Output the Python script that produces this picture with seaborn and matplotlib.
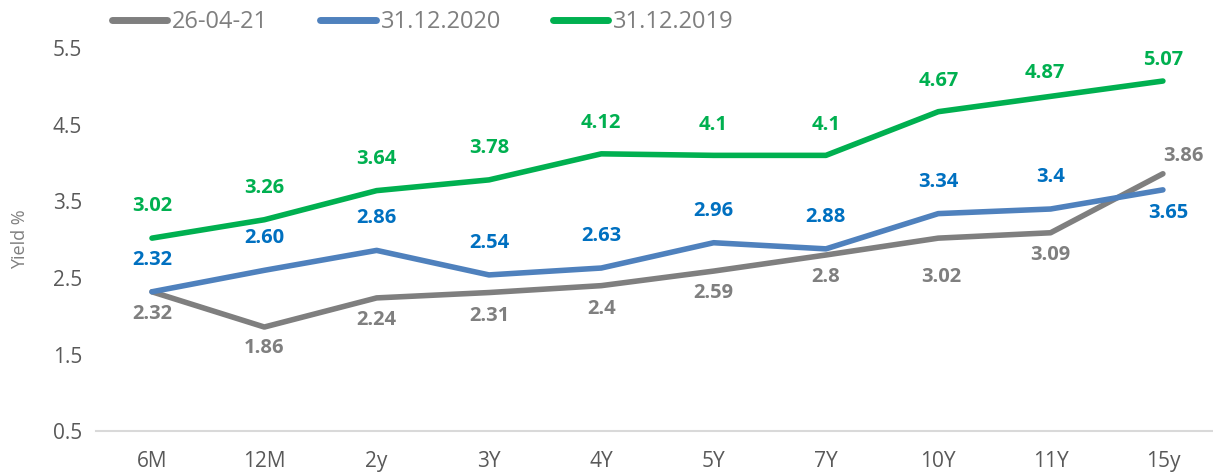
import pandas as pd
import seaborn as sns
import matplotlib.pyplot as plt

# Tenors and yield curves
tenors = ["6M", "12M", "2y", "3Y", "4Y", "5Y", "7Y", "10Y", "11Y", "15y"]
y_2021 = [2.32, 1.86, 2.24, 2.31, 2.40, 2.59, 2.80, 3.02, 3.09, 3.86]
y_2020 = [2.32, 2.60, 2.86, 2.54, 2.63, 2.96, 2.88, 3.34, 3.40, 3.65]
y_2019 = [3.02, 3.26, 3.64, 3.78, 4.12, 4.10, 4.10, 4.67, 4.87, 5.07]
labels_2021 = ["2.32", "1.86", "2.24", "2.31", "2.4", "2.59", "2.8", "3.02", "3.09", "3.86"]
labels_2020 = ["2.32", "2.60", "2.86", "2.54", "2.63", "2.96", "2.88", "3.34", "3.4", "3.65"]
labels_2019 = ["3.02", "3.26", "3.64", "3.78", "4.12", "4.1", "4.1", "4.67", "4.87", "5.07"]
series_names = ["26-04-21", "31.12.2020", "31.12.2019"]

line_colors = ["#7f7f7f", "#4f81bd", "#00b050"]
label_colors = ["#7f7f7f", "#0070c0", "#00b050"]

df = pd.DataFrame({
    "x": list(range(len(tenors))) * 3,
    "yield": y_2021 + y_2020 + y_2019,
    "series": [series_names[0]] * 10 + [series_names[1]] * 10 + [series_names[2]] * 10,
})

sns.set_style("white")
plt.rcParams["font.family"] = ["Open Sans", "DejaVu Sans"]

fig = plt.figure(figsize=(12.13, 4.76), dpi=100)
ax = fig.add_axes([0.079, 0.094, 0.926, 0.805])

sns.lineplot(data=df, x="x", y="yield", hue="series", hue_order=series_names,
             palette=line_colors, linewidth=4, ax=ax, legend=False)

# label offsets in points (dx, dy), placed like the Excel data labels
dy_2021 = [-16, -15, -16, -17, -17, -16, -16, -28, -16, 13]
dx_2021 = [0, 0, 0, 0, 0, 0, 0, 2, 0, 15]
dy_2020 = [23, 23, 23, 23, 23, 23, 23, 23, 23, -17]
dx_2020 = [0, 0, 0, 0, 0, 0, 0, 0, 0, 4]
dy_2019 = [23, 23, 23, 23, 22, 22, 22, 22, 17, 15]
dx_2019 = [0, 0, 0, 0, 0, 0, 0, 0, -4, 0]

for vals, labs, dys, dxs, col in [
    (y_2021, labels_2021, dy_2021, dx_2021, label_colors[0]),
    (y_2020, labels_2020, dy_2020, dx_2020, label_colors[1]),
    (y_2019, labels_2019, dy_2019, dx_2019, label_colors[2]),
]:
    for i, (v, t, dy, dx) in enumerate(zip(vals, labs, dys, dxs)):
        ax.annotate(t, (i, v), xytext=(dx, dy), textcoords="offset points",
                    ha="center", va="center", fontsize=14.5, fontweight="bold",
                    color=col)

ax.set_xlim(-0.5, 9.5)
ax.set_ylim(0.5, 5.5)
ax.set_xticks(range(len(tenors)))
ax.set_xticklabels(tenors)
ax.set_yticks([0.5, 1.5, 2.5, 3.5, 4.5, 5.5])
ax.set_yticklabels(["0.5", "1.5", "2.5", "3.5", "4.5", "5.5"])
ax.tick_params(axis="both", length=0, labelsize=15, labelcolor="#595959")
ax.tick_params(axis="x", pad=14)
ax.tick_params(axis="y", pad=10)
ax.set_xlabel("")
ax.set_ylabel("Yield %", fontsize=13, color="#7f7f7f", labelpad=17)

for s in ["top", "right", "left"]:
    ax.spines[s].set_visible(False)
ax.spines["bottom"].set_color("#d9d9d9")
ax.spines["bottom"].set_linewidth(1.5)
for ln in ax.lines:
    ln.set_clip_on(False)
    ln.set_solid_capstyle("round")

handles = [plt.Line2D([], [], color=c, linewidth=5, solid_capstyle="round") for c in line_colors]
fig.legend(handles, series_names, loc="center left", bbox_to_anchor=(0.0923, 0.954),
           ncol=3, frameon=False, fontsize=17, handlelength=2.35, handletextpad=0.2,
           columnspacing=2.2, borderpad=0, borderaxespad=0, labelcolor="#7f7f7f")

fig.savefig("out.png", dpi=100)
